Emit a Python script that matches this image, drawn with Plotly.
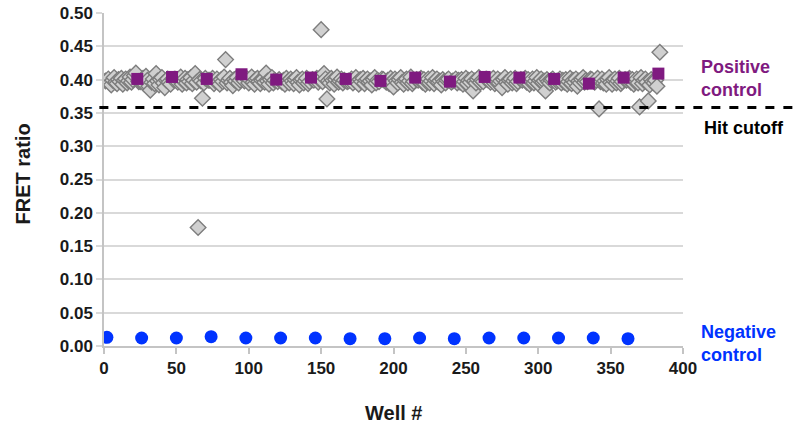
import plotly.graph_objects as go

# Negative control wells and FRET ratios
neg_wells = [2, 26, 50, 74, 98, 122, 146, 170, 194, 218, 242, 266, 290, 314, 338, 362]
neg_vals = [0.013, 0.012, 0.012, 0.014, 0.012, 0.012, 0.012, 0.011, 0.011, 0.012, 0.011, 0.012, 0.012, 0.012, 0.012, 0.011]

# Positive control wells and FRET ratios
pos_wells = [23, 47, 71, 95, 119, 143, 167, 191, 215, 239, 263, 287, 311, 335, 359, 383]
pos_vals = [0.401, 0.404, 0.401, 0.408, 0.400, 0.403, 0.401, 0.398, 0.403, 0.397, 0.404, 0.403, 0.401, 0.394, 0.403, 0.409]

# Sample wells (rows of 24 wells, controls excluded)
sample_rows = [
    [0.398,0.401,0.395,0.392,0.399,0.403,0.396,0.394,0.400,0.397,0.402,0.393,0.399,0.401,0.395,0.398,0.404,0.396,0.400,0.406,0.410,0.397],
    [0.397,0.402,0.393,0.405,0.399,0.390,0.384,0.396,0.401,0.394,0.409,0.398,0.392,0.400,0.403,0.395,0.388,0.399,0.401,0.396,0.393,0.400],
    [0.401,0.396,0.399,0.404,0.393,0.398,0.402,0.395,0.400,0.397,0.403,0.394,0.399,0.409,0.396,0.178,0.400,0.398,0.372,0.395,0.402,0.399],
    [0.399,0.402,0.394,0.398,0.401,0.396,0.393,0.400,0.397,0.404,0.430,0.395,0.399,0.402,0.396,0.391,0.400,0.398,0.403,0.395,0.399,0.401],
    [0.398,0.401,0.395,0.399,0.404,0.396,0.393,0.400,0.402,0.397,0.394,0.399,0.401,0.396,0.410,0.398,0.393,0.400,0.403,0.395,0.399,0.397],
    [0.400,0.396,0.399,0.393,0.402,0.397,0.395,0.401,0.398,0.394,0.400,0.403,0.396,0.392,0.399,0.401,0.395,0.398,0.402,0.394,0.397,0.400],
    [0.399,0.402,0.396,0.400,0.475,0.397,0.409,0.401,0.371,0.398,0.395,0.402,0.399,0.393,0.400,0.404,0.396,0.398,0.401,0.395,0.399,0.397],
    [0.398,0.401,0.395,0.399,0.403,0.396,0.393,0.400,0.397,0.402,0.394,0.399,0.401,0.396,0.398,0.392,0.400,0.403,0.395,0.399,0.397,0.401],
    [0.400,0.396,0.399,0.394,0.402,0.397,0.389,0.401,0.398,0.395,0.400,0.403,0.396,0.393,0.399,0.401,0.395,0.398,0.404,0.394,0.397,0.400],
    [0.399,0.402,0.396,0.400,0.393,0.397,0.401,0.395,0.398,0.403,0.394,0.399,0.401,0.396,0.398,0.392,0.400,0.397,0.395,0.399,0.401,0.396],
    [0.398,0.401,0.395,0.399,0.396,0.400,0.393,0.397,0.402,0.394,0.399,0.396,0.401,0.383,0.398,0.395,0.400,0.403,0.396,0.399,0.397,0.401],
    [0.400,0.396,0.399,0.402,0.394,0.397,0.401,0.395,0.398,0.388,0.400,0.403,0.396,0.393,0.399,0.401,0.395,0.398,0.402,0.394,0.397,0.400],
    [0.399,0.402,0.396,0.400,0.393,0.397,0.401,0.395,0.398,0.403,0.394,0.399,0.401,0.396,0.398,0.383,0.400,0.397,0.395,0.399,0.401,0.396],
    [0.398,0.401,0.395,0.399,0.396,0.400,0.393,0.397,0.402,0.394,0.399,0.396,0.401,0.390,0.398,0.395,0.400,0.403,0.396,0.399,0.397,0.401],
    [0.400,0.396,0.399,0.402,0.356,0.397,0.401,0.395,0.398,0.393,0.400,0.403,0.396,0.393,0.399,0.401,0.395,0.398,0.402,0.394,0.397,0.400],
    [0.399,0.402,0.396,0.400,0.393,0.397,0.401,0.395,0.359,0.403,0.394,0.399,0.401,0.396,0.368,0.392,0.400,0.397,0.395,0.399,0.390,0.441],
]

hit_cutoff = 0.358
x_ticks = [0, 50, 100, 150, 200, 250, 300, 350, 400]
y_ticks = [0.00, 0.05, 0.10, 0.15, 0.20, 0.25, 0.30, 0.35, 0.40, 0.45, 0.50]

control_set = set(neg_wells) | set(pos_wells)
sample_wells = [w for w in range(1, 385) if w not in control_set]
sample_vals = [v for row in sample_rows for v in row]

FONT = "Arial, Liberation Sans, sans-serif"
TXT = "#1a1a1a"

fig = go.Figure()
fig.add_trace(go.Scatter(
    x=sample_wells, y=sample_vals, mode="markers",
    marker=dict(symbol="diamond", size=12, color="#d0d0d0",
                line=dict(color="#7d7d7d", width=1.4)),
    showlegend=False))
fig.add_trace(go.Scatter(
    x=pos_wells, y=pos_vals, mode="markers",
    marker=dict(symbol="square", size=12, color="#7f1a80",
                line=dict(color="#7f1a80", width=0)),
    showlegend=False))
fig.add_trace(go.Scatter(
    x=neg_wells, y=neg_vals, mode="markers",
    marker=dict(symbol="circle", size=13, color="#0033ff"),
    showlegend=False))

fig.add_shape(type="line", xref="paper", yref="y", x0=-0.008, x1=1.198,
              y0=hit_cutoff, y1=hit_cutoff,
              line=dict(color="black", width=3, dash="dash"), layer="above")

fig.add_annotation(xref="paper", yref="y", x=1.028, y=0.401, xanchor="left",
                   text="<b>Positive<br>control</b>", showarrow=False, align="left",
                   font=dict(family=FONT, size=18, color="#7f1a80"))
fig.add_annotation(xref="paper", yref="y", x=1.033, y=0.327, xanchor="left",
                   text="<b>Hit cutoff</b>", showarrow=False, align="left",
                   font=dict(family=FONT, size=18, color="black"))
fig.add_annotation(xref="paper", yref="y", x=1.028, y=0.004, xanchor="left",
                   text="<b>Negative<br>control</b>", showarrow=False, align="left",
                   font=dict(family=FONT, size=18, color="#0033ff"))

# Axis titles
fig.add_annotation(xref="paper", yref="paper", x=0.5, y=-0.2, xanchor="center", yanchor="middle",
                   text="<b>Well #</b>", showarrow=False,
                   font=dict(family=FONT, size=20, color=TXT))
fig.add_annotation(xref="paper", yref="paper", x=-0.1416, y=0.515, xanchor="center", yanchor="middle",
                   text="<b>FRET ratio</b>", showarrow=False, textangle=-90,
                   font=dict(family=FONT, size=20, color=TXT))

fig.update_layout(
    width=803, height=423,
    margin=dict(l=104, r=120, t=13, b=77),
    plot_bgcolor="white", paper_bgcolor="white",
    font=dict(family=FONT, size=16, color=TXT),
)
fig.update_xaxes(
    range=[0, 400], tickvals=x_ticks, ticktext=[f"<b>{t}</b>" for t in x_ticks],
    showgrid=False, zeroline=False, showline=True, linecolor="#c4c4c4", linewidth=1.5,
    ticks="outside", ticklen=6, tickcolor="#c4c4c4", tickwidth=1.5,
    tickfont=dict(family=FONT, size=17, color=TXT), automargin=False,
)
fig.update_yaxes(
    range=[0, 0.5], tickvals=y_ticks, ticktext=[f"<b>{t:.2f}</b>" for t in y_ticks],
    showgrid=True, gridcolor="#d9d9d9", gridwidth=1.5, zeroline=False,
    showline=True, linecolor="#c4c4c4", linewidth=1.5,
    ticks="outside", ticklen=6, tickcolor="#d9d9d9", tickwidth=1.5,
    tickfont=dict(family=FONT, size=17, color=TXT), automargin=False,
)

fig.write_html("out.html", config={"displayModeBar": False},
               post_script="document.body.style.margin='0';document.body.style.overflow='hidden';")
